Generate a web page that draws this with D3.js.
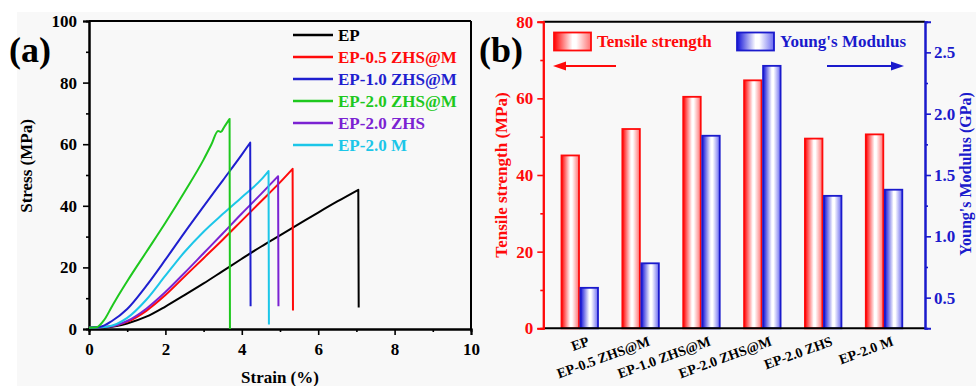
<!DOCTYPE html>
<html><head><meta charset="utf-8">
<script src="https://cdn.jsdelivr.net/npm/d3@7"></script>
<style>
body{margin:0;background:#fff}
svg{display:block}
text{font-family:"Liberation Serif","Times New Roman",serif;font-weight:bold}
</style>
</head><body>
<svg id="c" width="976" height="386"></svg>
<script>
// ---------- Panel (a) data: stress-strain curves [strain %, stress MPa]; last point = fracture drop ----------
const seriesNames  = ["EP","EP-0.5 ZHS@M","EP-1.0 ZHS@M","EP-2.0 ZHS@M","EP-2.0 ZHS","EP-2.0 M"];
const seriesColors = ["#000000","#ff0a0a","#1f1fcf","#1ec81e","#7b22d2","#1cc6e8"];
const curveEP   = [[0,0.4],[0.5,0.6],[1,1.8],[1.5,4],[2,7.3],[2.5,11],[3,14.8],[3.5,18.8],[4,22.8],[4.5,26.7],[5,30.4],[5.5,34.1],[6,37.8],[6.5,41.4],[7.05,45.2],[7.06,7]];
const curve05   = [[0,0.4],[0.5,0.7],[1,2.3],[1.5,5.9],[2,11],[2.5,17],[3,23],[3.5,29],[4,35.2],[4.5,41.4],[5,47.6],[5.33,52],[5.34,6]];
const curve10   = [[0,0.4],[0.3,0.7],[0.6,2.6],[1,6.5],[1.5,14],[2,22.5],[2.5,31.3],[3,39.8],[3.5,48.2],[4,56.6],[4.22,60.5],[4.23,7.4]];
const curve20   = [[0,0.4],[0.2,0.6],[0.4,3],[0.6,7.3],[0.8,11.5],[1,15.5],[1.5,25],[2,34.5],[2.5,44.5],[3,55],[3.2,59.8],[3.38,64.3],[3.45,64],[3.55,65.8],[3.68,68.2],[3.69,0]];
const curveZHS  = [[0,0.4],[0.5,0.7],[1,2.6],[1.5,6.6],[2,12],[2.5,18.2],[3,24.6],[3.5,31],[4,37.5],[4.5,43.8],[4.95,49.6],[4.96,7.4]];
const curveM    = [[0,0.4],[0.5,0.8],[1,3.6],[1.5,9.5],[2,17.3],[2.5,25],[3,31.6],[3.5,37.3],[4,42.8],[4.5,48.4],[4.7,51.3],[4.71,1.5]];
const curves = [curveEP, curve05, curve10, curve20, curveZHS, curveM];
const xTicksA = [0,2,4,6,8,10];
const xMinorA = [1,3,5,7,9];
const yTicksA = [0,20,40,60,80,100];
const yMinorA = [10,30,50,70,90];

// ---------- Panel (b) data ----------
const barCategories   = ["EP","EP-0.5 ZHS@M","EP-1.0 ZHS@M","EP-2.0 ZHS@M","EP-2.0 ZHS","EP-2.0 M"];
const tensileStrength = [45.1, 52.0, 60.4, 64.7, 49.5, 50.6];
const youngsModulus   = [0.58, 0.78, 1.82, 2.39, 1.33, 1.38];
const yTicksBLeft  = [0,20,40,60,80];
const yMinorBLeft  = [10,30,50,70];
const yTicksBRight = [0.5,1.0,1.5,2.0,2.5];
const yMinorBRight = [0.75,1.25,1.75,2.25];

const RED = "#ff0a0a", BLUE = "#1a1acc";

const svg = d3.select("#c");
svg.append("rect").attr("x",17).attr("y",12).attr("width",959).attr("height",374).attr("fill","#f8f8f8");

const defs = svg.append("defs");
function grad(id, c, cEnd){
  const g = defs.append("linearGradient").attr("id",id).attr("x1","0%").attr("x2","100%").attr("y1","0%").attr("y2","0%");
  g.append("stop").attr("offset","0%").attr("stop-color",c);
  g.append("stop").attr("offset","50%").attr("stop-color","#ffffff");
  g.append("stop").attr("offset","60%").attr("stop-color","#ffffff");
  g.append("stop").attr("offset","100%").attr("stop-color",cEnd);
}
grad("gRed","#ff0000","#ff7070");
grad("gBlue","#1010d8","#6a6af0");

// ================= Panel (a) =================
const aL=89, aR=471, aT=21, aB=329;
const xa = d3.scaleLinear().domain([0,10]).range([aL,aR]);
const ya = d3.scaleLinear().domain([0,100]).range([aB,aT]);
const ga = svg.append("g");

function styleAxis(g, color, fs){
  g.select(".domain").attr("stroke",color).attr("stroke-width",2);
  g.selectAll(".tick line").attr("stroke",color).attr("stroke-width",1.6);
  g.selectAll(".tick text").attr("fill",color).attr("font-size",fs)
   .attr("font-family","'Liberation Serif','Times New Roman',serif").attr("font-weight","bold");
}

ga.append("line").attr("x1",aL).attr("x2",aR).attr("y1",aT).attr("y2",aT).attr("stroke","#000").attr("stroke-width",2);
ga.append("line").attr("x1",aR).attr("x2",aR).attr("y1",aT).attr("y2",aB).attr("stroke","#000").attr("stroke-width",2);

const axA_xm = ga.append("g").attr("transform",`translate(0,${aB})`).call(d3.axisBottom(xa).tickValues(xMinorA).tickSize(3).tickFormat(""));
styleAxis(axA_xm,"#000",17);
const axA_x = ga.append("g").attr("transform",`translate(0,${aB})`).call(d3.axisBottom(xa).tickValues(xTicksA).tickSize(6).tickPadding(8).tickFormat(d3.format("d")));
styleAxis(axA_x,"#000",17);
const axA_ym = ga.append("g").attr("transform",`translate(${aL},0)`).call(d3.axisLeft(ya).tickValues(yMinorA).tickSize(3).tickFormat(""));
styleAxis(axA_ym,"#000",17);
const axA_y = ga.append("g").attr("transform",`translate(${aL},0)`).call(d3.axisLeft(ya).tickValues(yTicksA).tickSize(6).tickPadding(6).tickFormat(d3.format("d")));
styleAxis(axA_y,"#000",17);

const smooth = d3.line().x(d=>xa(d[0])).y(d=>ya(d[1])).curve(d3.curveMonotoneX);
const straight = d3.line().x(d=>xa(d[0])).y(d=>ya(d[1]));
const order = [0,1,4,5,2,3];
order.forEach(i=>{
  const c = curves[i];
  const n = c.length;
  ga.append("path").attr("d",smooth(c.slice(0,n-1)) + straight(c.slice(n-2)).replace("M","L"))
    .attr("fill","none").attr("stroke",seriesColors[i]).attr("stroke-width",2).attr("stroke-linejoin","round");
});

seriesNames.forEach((n,i)=>{
  const y = 35 + i*22;
  ga.append("line").attr("x1",293).attr("x2",333).attr("y1",y).attr("y2",y)
    .attr("stroke",seriesColors[i]).attr("stroke-width",2.5);
  ga.append("text").attr("x",338).attr("y",y+6).attr("font-size",17).attr("fill",seriesColors[i]).text(n);
});

ga.append("text").attr("x",(aL+aR)/2).attr("y",383).attr("text-anchor","middle").attr("font-size",17).text("Strain (%)");
ga.append("text").attr("transform","translate(32,166) rotate(-90)").attr("text-anchor","middle").attr("font-size",17).text("Stress (MPa)");
ga.append("text").attr("x",9).attr("y",62).attr("font-size",36).text("(a)");

// ================= Panel (b) =================
const bL=543.3, bR=925, bT=21.7, bB=328.3;
const xb = d3.scalePoint().domain(barCategories).range([bL+36.7, bR-40.7]);
const yl = d3.scaleLinear().domain([0,80]).range([bB,bT]);
const yr = d3.scaleLinear().domain([0.25,2.75]).range([bB,bT]);
const gb = svg.append("g");
const barW = 18.5;

gb.selectAll("rect.ts").data(barCategories).join("rect").attr("class","ts")
  .attr("x",d=>xb(d)-barW).attr("width",barW-1)
  .attr("y",(d,i)=>yl(tensileStrength[i])).attr("height",(d,i)=>bB-yl(tensileStrength[i]))
  .attr("fill","url(#gRed)").attr("stroke",RED).attr("stroke-width",1.8);
gb.selectAll("rect.ym").data(barCategories).join("rect").attr("class","ym")
  .attr("x",d=>xb(d)+0.5).attr("width",barW-1)
  .attr("y",(d,i)=>yr(youngsModulus[i])).attr("height",(d,i)=>bB-yr(youngsModulus[i]))
  .attr("fill","url(#gBlue)").attr("stroke",BLUE).attr("stroke-width",1.8);

gb.append("line").attr("x1",bL).attr("x2",bR).attr("y1",bT).attr("y2",bT).attr("stroke","#000").attr("stroke-width",2);
gb.append("line").attr("x1",bL).attr("x2",bR).attr("y1",bB).attr("y2",bB).attr("stroke","#000").attr("stroke-width",2);

const axBLm = gb.append("g").attr("transform",`translate(${bL},0)`).call(d3.axisLeft(yl).tickValues(yMinorBLeft).tickSize(3).tickFormat(""));
styleAxis(axBLm,RED,17);
const axBL = gb.append("g").attr("transform",`translate(${bL},0)`).call(d3.axisLeft(yl).tickValues(yTicksBLeft).tickSize(6).tickPadding(4).tickFormat(d3.format("d")));
styleAxis(axBL,RED,17);
const axBRm = gb.append("g").attr("transform",`translate(${bR},0)`).call(d3.axisRight(yr).tickValues(yMinorBRight).tickSize(3).tickFormat(""));
styleAxis(axBRm,BLUE,17);
const axBR = gb.append("g").attr("transform",`translate(${bR},0)`).call(d3.axisRight(yr).tickValues(yTicksBRight).tickSize(6).tickPadding(3).tickFormat(d3.format(".1f")));
styleAxis(axBR,BLUE,17);

gb.selectAll("text.cat").data(barCategories).join("text").attr("class","cat")
  .attr("transform",d=>`translate(${xb(d)+10},345) rotate(-20)`)
  .attr("text-anchor","end").attr("font-size",14).attr("fill","#000").text(d=>d);

gb.append("rect").attr("x",554).attr("y",32.5).attr("width",37).attr("height",18).attr("fill","url(#gRed)").attr("stroke",RED).attr("stroke-width",1.8);
gb.append("text").attr("x",597).attr("y",47).attr("font-size",17).attr("fill",RED).text("Tensile strength");
gb.append("rect").attr("x",737).attr("y",32.5).attr("width",37).attr("height",18).attr("fill","url(#gBlue)").attr("stroke",BLUE).attr("stroke-width",1.8);
gb.append("text").attr("x",780).attr("y",47).attr("font-size",17).attr("fill",BLUE).text("Young's Modulus");

gb.append("line").attr("x1",616).attr("x2",563).attr("y1",66).attr("y2",66).attr("stroke",RED).attr("stroke-width",2);
gb.append("path").attr("d","M553,66 L566,61.5 L566,70.5 Z").attr("fill",RED);
gb.append("line").attr("x1",827).attr("x2",894).attr("y1",66).attr("y2",66).attr("stroke",BLUE).attr("stroke-width",2);
gb.append("path").attr("d","M904,66 L891,61.5 L891,70.5 Z").attr("fill",BLUE);

gb.append("text").attr("transform",`translate(507,175) rotate(-90)`).attr("text-anchor","middle").attr("font-size",17).attr("fill",RED).text("Tensile strength (MPa)");
gb.append("text").attr("transform",`translate(970.5,174) rotate(-90)`).attr("text-anchor","middle").attr("font-size",16).attr("fill",BLUE).text("Young's Modulus (GPa)");
gb.append("text").attr("x",479).attr("y",62).attr("font-size",36).text("(b)");
</script>
</body></html>
